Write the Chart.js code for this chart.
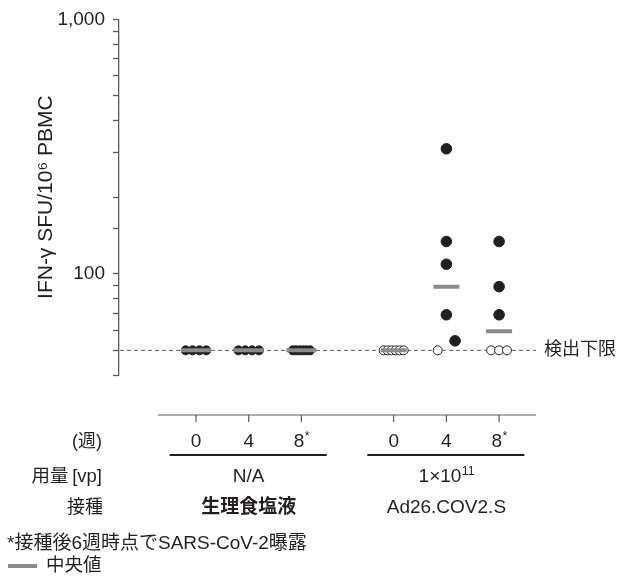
<!DOCTYPE html>
<html>
<head>
<meta charset="utf-8">
<script src="https://cdn.jsdelivr.net/npm/chart.js@4.4.1/dist/chart.umd.min.js"></script>
<style>
	html, body { margin: 0; padding: 0; background: #fff; }
	#wrap { width: 619px; height: 577px; position: relative; }
</style>
</head>
<body>
<div id="wrap"><canvas id="chart-ifn"></canvas></div>
<script>
// Data (values at the detection limit are drawn at LOD)
const WEEK_LABELS = ["0", "4", "8^*"];
const DOSE_LABELS = ["N/A", "1×10^11"];
const GROUP_LABELS = ["生理食塩液", "Ad26.COV2.S"];
const LOD = 50;
const SALINE_W0 = [50, 50, 50, 50];
const SALINE_W4 = [50, 50, 50, 50];
const SALINE_W8 = [50, 50, 50, 50, 50, 50];
const AD26_W0 = [50, 50, 50, 50, 50, 50];
const AD26_W4 = [310, 134, 109, 69, 54.5, 50];
const AD26_W8 = [134, 89, 69, 50, 50, 50];

const FONT = '"Liberation Sans", "Noto Sans CJK JP", sans-serif';
const INK = "#231f20";
const GREY = "#8a8a8a";
const AXIS = "#5a5a5a";

const COLUMNS = [
	{ group: 0, week: 0, values: SALINE_W0, gap: 0.13 },
	{ group: 0, week: 1, values: SALINE_W4, gap: 0.13 },
	{ group: 0, week: 2, values: SALINE_W8, gap: 0.065 },
	{ group: 1, week: 0, values: AD26_W0, gap: 0.076 },
	{ group: 1, week: 1, values: AD26_W4, gap: 0.33 },
	{ group: 1, week: 2, values: AD26_W8, gap: 0.15 },
];
const colX = (c) => 1 + c.group * 3.75 + c.week;

// spread points that sit at (almost) the same height side by side
const swarm = (values, x, gap) => {
	const rows = [];
	[...values].sort((a, b) => a - b).forEach((v) => {
		const row = rows.find((r) => Math.abs(Math.log10(r[0]) - Math.log10(v)) < 0.06);
		row ? row.push(v) : rows.push([v]);
	});
	return rows.flatMap((r) => r.map((v, i) => ({ x: x + (i - (r.length - 1) / 2) * gap, y: v })));
};

const median = (arr) => {
	const s = [...arr].sort((a, b) => a - b);
	const m = Math.floor(s.length / 2);
	return s.length % 2 ? s[m] : (s[m - 1] + s[m]) / 2;
};

const datasets = [];
COLUMNS.forEach((c) => {
	const x = colX(c);
	datasets.push({
		label: "median",
		data: [{ x, y: median(c.values) }],
		pointStyle: "line",
		pointRadius: c.group === 0 ? 15 : 13,
		pointBorderWidth: 4,
		pointBorderColor: GREY,
		order: 0,
	});
	datasets.push({
		label: GROUP_LABELS[c.group] + " " + c.week,
		data: swarm(c.values, x, c.gap),
		pointStyle: "circle",
		pointRadius: (ctx) => (c.group === 0 ? 4.5 : ctx.raw.y <= LOD ? 4.5 : 5.3),
		pointBorderWidth: 1,
		pointBorderColor: INK,
		pointBackgroundColor: (ctx) => (c.group === 1 && ctx.raw.y <= LOD ? "#fff" : INK),
		order: 1,
	});
});

// text with "^" marking a raised small tail: "1×10^11", "8^*"
const drawSup = (ctx, text, x, y, size, align, weight) => {
	const [base, sup] = text.split("^");
	ctx.font = `${weight || "normal"} ${size}px ${FONT}`;
	const wb = ctx.measureText(base).width;
	ctx.font = `${size * 0.65}px ${FONT}`;
	const ws = sup ? ctx.measureText(sup).width : 0;
	let left = x;
	if (align === "center") left = x - (wb + ws) / 2;
	if (align === "right") left = x - wb - ws;
	ctx.textAlign = "left";
	ctx.textBaseline = "middle";
	ctx.font = `${weight || "normal"} ${size}px ${FONT}`;
	ctx.fillText(base, left, y);
	if (sup) {
		ctx.font = `${size * 0.65}px ${FONT}`;
		ctx.fillText(sup, left + wb + 0.5, y - size * 0.28);
	}
};

const annotations = {
	id: "annotations",
	beforeDatasetsDraw(chart) {
		const { ctx, chartArea, scales } = chart;
		const yL = scales.y.getPixelForValue(LOD);
		ctx.save();
		ctx.strokeStyle = "#5e5e5e";
		ctx.lineWidth = 1;
		ctx.setLineDash([4, 3]);
		ctx.beginPath();
		ctx.moveTo(chartArea.left + 1, yL);
		ctx.lineTo(chartArea.right, yL);
		ctx.stroke();
		ctx.restore();
	},
	afterDraw(chart) {
		const { ctx, chartArea, scales } = chart;
		const xs = scales.x;
		const px = (v) => xs.getPixelForValue(v);
		ctx.save();
		ctx.fillStyle = INK;

		// detection limit label
		ctx.font = `18px ${FONT}`;
		ctx.textAlign = "left";
		ctx.textBaseline = "middle";
		ctx.fillText("検出下限", 544, scales.y.getPixelForValue(LOD));

		// separate category axis under the plot
		const axY = 415;
		ctx.strokeStyle = AXIS;
		ctx.lineWidth = 1.2;
		ctx.beginPath();
		ctx.moveTo(px(0.28), axY);
		ctx.lineTo(chartArea.right, axY);
		COLUMNS.forEach((c) => {
			ctx.moveTo(px(colX(c)), axY);
			ctx.lineTo(px(colX(c)), axY + 7);
		});
		ctx.stroke();

		COLUMNS.forEach((c) => {
			drawSup(ctx, WEEK_LABELS[c.week], px(colX(c)), 442, 19, "center");
		});

		// group underlines, dose and vaccine rows
		ctx.strokeStyle = INK;
		ctx.lineWidth = 2;
		GROUP_LABELS.forEach((g, gi) => {
			const first = colX({ group: gi, week: 0 });
			const mid = first + 1;
			ctx.beginPath();
			ctx.moveTo(px(first - 0.5), 455);
			ctx.lineTo(px(first + 2.48), 455);
			ctx.stroke();
			drawSup(ctx, DOSE_LABELS[gi], px(mid), 477, 19, "center");
			drawSup(ctx, g, px(mid), 508, 19, "center", gi === 0 ? "bold" : "normal");
		});

		// row headers
		drawSup(ctx, "(週)", 102, 442, 18, "right");
		drawSup(ctx, "用量\u2009[vp]", 102, 477, 18.5, "right");
		drawSup(ctx, "接種", 103, 508, 18, "right");

		// footnote + legend
		drawSup(ctx, "*接種後6週時点でSARS-CoV-2曝露", 7, 544, 19, "left");
		ctx.strokeStyle = GREY;
		ctx.lineWidth = 4;
		ctx.beginPath();
		ctx.moveTo(8, 566);
		ctx.lineTo(37, 566);
		ctx.stroke();
		drawSup(ctx, "中央値", 46, 566, 18.5, "left");
		ctx.restore();
	},
};

const CHART_CONFIG = {
	type: "scatter",
	data: { datasets },
	options: {
		responsive: true,
		maintainAspectRatio: false,
		animation: false,
		events: [],
		layout: { padding: { top: 16, right: 83, bottom: 202, left: 0 } },
		plugins: { legend: { display: false }, tooltip: { enabled: false } },
		scales: {
			x: { type: "linear", display: false, min: -0.46, max: 7.45 },
			y: {
				type: "logarithmic",
				min: 40,
				max: 1000,
				afterFit: (scale) => {
					scale.width = 119;
				},
				border: { display: true, color: AXIS, width: 1.3 },
				grid: {
					drawOnChartArea: false,
					drawTicks: true,
					tickLength: 6,
					tickColor: AXIS,
					tickWidth: 1.3,
				},
				ticks: {
					autoSkip: false,
					padding: 8,
					color: INK,
					font: { family: FONT, size: 19 },
					callback: (v) => (v === 1000 ? "1,000" : v === 100 ? "100" : ""),
				},
				title: {
					display: true,
					text: "IFN-γ SFU/10⁶ PBMC",
					color: INK,
					font: { family: FONT, size: 21 },
					padding: { top: 34, bottom: 0 },
				},
			},
		},
	},
	plugins: [annotations],
};

new Chart(document.getElementById("chart-ifn"), CHART_CONFIG);
</script>
</body>
</html>
